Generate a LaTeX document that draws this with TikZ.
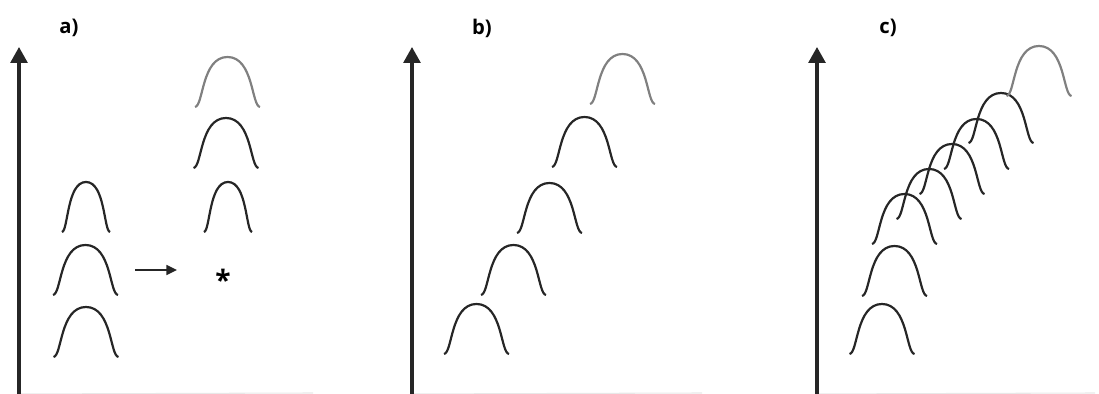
\documentclass[tikz,border=0pt]{standalone}
\usepackage{fontspec}
\setsansfont{Open Sans}
\usetikzlibrary{arrows.meta}

\begin{document}
\begin{tikzpicture}[
        x=0.02cm, y=0.02cm,
        lbl/.style={font=\sffamily\bfseries\fontsize{11.5}{13}\selectfont, inner sep=0pt},
        axisline/.style={line width=1.8pt, black!85, -{Triangle[length=9pt, width=9.5pt]}},
        floorline/.style={gray!18, line width=0.6pt},
        bellline/.style={line width=1.25pt, black!85},
        faded/.style={line width=1.25pt, black!50},
        bell/.pic={\draw[pic actions] (-32.5,0) .. controls (-24,1) and (-26,50) .. (0,50)
            .. controls (26,50) and (24,1) .. (32.5,0);},
    ]
    \useasboundingbox (0,0) rectangle (1099,394);

    \foreach \ax/\aend/\nm in {19/313/a, 412/702/b, 817/1095/c} {
        \coordinate (\nm O) at (\ax,0);
        \coordinate (\nm T) at (\ax,347);
        \coordinate (\nm E) at (\aend,1);
        \draw[floorline] (\nm O) -- (\nm E);
        \draw[axisline] (\nm O) -- (\nm T);
    }

    \node[lbl] (la) at (69,366) {a)};
    \node[lbl] (lb) at (482,366) {b)};
    \node[lbl] (lc) at (888,366) {c)};

    % a)
    \pic[bellline, xscale=0.74] at (86,162) {bell};
    \pic[bellline] at (85.5,99) {bell};
    \pic[bellline] at (86,37) {bell};
    \pic[faded] at (227.5,287) {bell};
    \pic[bellline] at (226,226) {bell};
    \pic[bellline, xscale=0.74] at (228,162) {bell};
    \coordinate (shiftS) at (135,124);
    \coordinate (shiftE) at (177,124);
    \draw[line width=1.4pt, black!85, -{Triangle[length=6pt, width=5.5pt]}] (shiftS) -- (shiftE);
    \node[font=\sffamily\bfseries\fontsize{16}{16}\selectfont, inner sep=0pt, anchor=north] (ast) at (223,125) {*};

    % b)
    \foreach \px/\py in {476.5/40, 513.5/99, 549.5/161, 584.5/227}
        \pic[bellline] at (\px,\py) {bell};
    \pic[faded] at (622.5,290) {bell};

    % c)
    \foreach \px/\py in {882/40, 894.5/98, 904.5/150, 929/175, 952/200, 976.5/225, 1001/251}
        \pic[bellline] at (\px,\py) {bell};
    \pic[faded] at (1039,298) {bell};
\end{tikzpicture}
\end{document}
